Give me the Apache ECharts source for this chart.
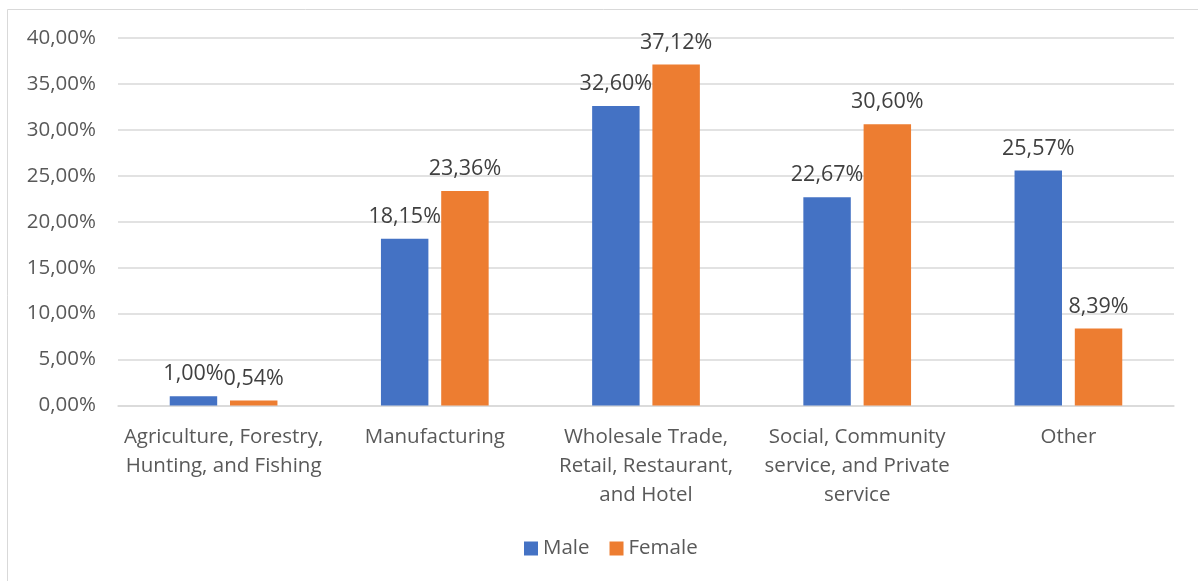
<!DOCTYPE html>
<html>
<head>
<meta charset="utf-8">
<script src="https://cdn.jsdelivr.net/npm/echarts@6/dist/echarts.min.js"></script>
<style>
  html, body { margin: 0; padding: 0; background: #fff; }
  #chart { width: 1198px; height: 581px; }
</style>
</head>
<body>
<div id="chart"></div>
<script>
// Employment share by sector and sex (percent)
const categories = [
  'Agriculture, Forestry,\nHunting, and Fishing',
  'Manufacturing',
  'Wholesale Trade,\nRetail, Restaurant,\nand Hotel',
  'Social, Community\nservice, and Private\nservice',
  'Other'
];
const maleValues = [1.00, 18.15, 32.60, 22.67, 25.57];
const femaleValues = [0.54, 23.36, 37.12, 30.60, 8.39];
const seriesNames = ['Male', 'Female'];

const fmt = v => v.toFixed(2).replace('.', ',') + '%';
const FONT = 'Open Sans';

const chart = echarts.init(document.getElementById('chart'), null, { renderer: 'canvas' });
chart.setOption({
  animation: false,
  backgroundColor: '#ffffff',
  textStyle: { fontFamily: FONT },
  graphic: [{
    type: 'rect',
    shape: { x: 7.5, y: 9.5, width: 1300, height: 700 },
    style: { fill: 'none', stroke: '#d9d9d9', lineWidth: 1 },
    silent: true
  }],
  grid: { left: 118, right: 24, top: 38, bottom: 175.5 },
  legend: {
    data: seriesNames,
    bottom: 17,
    left: 519,
    icon: 'rect',
    itemWidth: 14,
    itemHeight: 14,
    itemGap: 20,
    itemTextGap: 6,
    textStyle: { color: '#595959', fontSize: 20.5, fontFamily: FONT }
  },
  xAxis: {
    type: 'category',
    data: categories,
    axisLine: { lineStyle: { color: '#d9d9d9', width: 1.5 } },
    axisTick: { show: false },
    axisLabel: {
      color: '#595959', fontSize: 20.5, fontFamily: FONT,
      interval: 0, margin: 17, lineHeight: 29
    }
  },
  yAxis: {
    type: 'value',
    min: 0, max: 40, interval: 5,
    axisLine: { show: false },
    axisTick: { show: false },
    splitLine: { lineStyle: { color: '#d9d9d9', width: 1.5 } },
    axisLabel: {
      color: '#595959', fontSize: 20.5, fontFamily: FONT, margin: 22,
      formatter: v => fmt(v)
    }
  },
  series: [
    {
      name: seriesNames[0], type: 'bar', data: maleValues,
      itemStyle: { color: '#4472c4' },
      barGap: '27%', barCategoryGap: '49%',
      label: { show: true, position: 'top', distance: 11, color: '#404040', fontSize: 21.5, fontFamily: FONT, formatter: p => fmt(p.value) }
    },
    {
      name: seriesNames[1], type: 'bar', data: femaleValues,
      itemStyle: { color: '#ed7d31' },
      barGap: '27%', barCategoryGap: '49%',
      label: { show: true, position: 'top', distance: 11, color: '#404040', fontSize: 21.5, fontFamily: FONT, formatter: p => fmt(p.value) }
    }
  ]
});
</script>
</body>
</html>
